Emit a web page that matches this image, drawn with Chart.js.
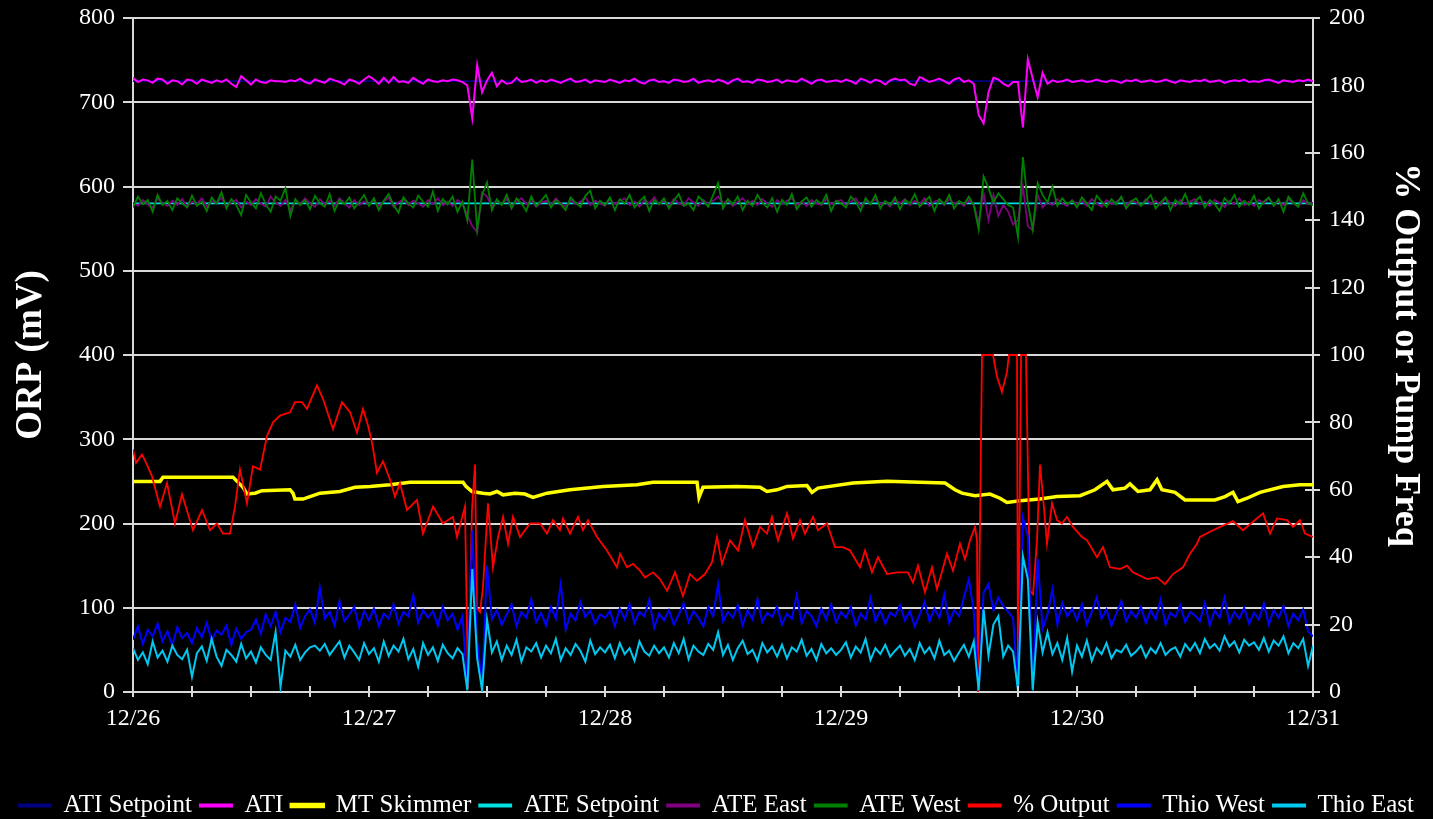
<!DOCTYPE html>
<html>
<head>
<meta charset="utf-8">
<script src="https://cdn.jsdelivr.net/npm/chart.js@4.4.1/dist/chart.umd.min.js"></script>
<style>
  html, body { margin: 0; padding: 0; background: #000; }
  #wrap { width: 1433px; height: 819px; position: relative; }
</style>
</head>
<body>
<div id="wrap"><canvas id="orpChart"></canvas></div>
<script>
// x axis runs in hours from midnight 12/26, one label per day
const dateLabels = ['12/26', '12/27', '12/28', '12/29', '12/30', '12/31'];
const STEP_HOURS = 0.5; // probes logged every half hour

// setpoints (mV)
const setpointHours = [0, 120];
const atiSetpoint = [725, 725];
const ateSetpoint = [580, 580];

// ATI ORP (mV), half-hourly
const ati = [
  729,724,727,726,723,728,727,722,726,725,721,727,
  726,722,727,725,723,726,724,727,722,718,731,726,
  721,727,724,723,726,725,725,724,726,725,728,724,
  722,727,725,723,728,726,724,721,727,725,722,727,
  731,727,722,729,723,730,724,725,723,729,725,722,
  727,725,724,726,725,727,726,724,720,681,744,712,
  726,735,719,726,722,723,729,724,725,727,723,726,
  724,727,725,723,726,728,724,725,727,723,726,725,
  724,727,725,723,726,725,728,724,722,726,727,724,
  725,723,727,726,724,725,728,723,725,726,724,727,
  725,722,726,728,724,725,723,727,726,724,725,727,
  723,726,725,724,728,725,722,726,727,724,725,726,
  724,727,725,722,728,726,723,727,725,721,726,728,
  726,727,722,720,730,727,724,726,728,725,722,727,
  729,724,726,722,685,675,712,729,727,722,719,724,
  724,670,751,728,706,735,722,726,724,725,727,724,
  725,726,724,725,727,725,724,726,725,723,726,725,
  727,724,725,726,724,725,727,725,723,726,725,724,
  726,725,727,724,725,726,723,725,726,725,727,724,
  725,724,726,727,725,723,726,725,724,726,725,727,
  725
];

// MT Skimmer ORP (mV)
const skimmerHours = [0,2.75,3.05,10.17,10.58,11.19,11.59,12.41,13.12,15.97,16.27,16.47,17.29,18.0,19.02,21.05,22.58,24.1,26.14,28.17,
  33.56,33.86,34.47,35.59,36.31,37.02,37.63,38.85,39.86,40.68,42.1,44.44,47.8,51.25,52.88,57.36,57.56,57.97,61.42,63.76,
  64.47,65.49,66.51,68.54,69.05,69.66,73.22,76.68,80.03,82.58,83.59,84.31,85.63,87.15,88.17,88.88,90.2,92.24,93.97,96.31,
  97.83,99.05,99.66,100.88,101.39,102.2,103.42,104.14,104.64,105.97,106.98,110.03,111.05,111.86,112.37,113.29,114.61,116.95,118.68,120];
const mtSkimmer = [250,250,255,255,250,243,235,236,239,240,236,229,229,232,236,238,243,244,246,249,
  249,244,238,236,235,238,234,236,235,231,236,240,244,246,249,249,231,243,244,243,
  238,240,244,245,237,242,248,250,249,248,240,236,233,235,230,225,227,229,232,233,
  240,250,240,242,247,238,240,252,240,237,228,228,232,237,226,230,237,244,246,246];

// ATE East / ATE West ORP (mV), half-hourly
const ateEast = [
  581,577,584,579,575,586,580,577,583,578,585,576,
  582,579,586,576,583,580,587,577,581,584,575,582,
  578,585,580,576,588,581,577,584,572,583,579,586,
  580,576,585,579,583,577,586,580,575,584,578,582,
  579,584,577,582,587,576,581,585,578,583,580,576,
  584,579,586,578,582,577,584,580,566,553,546,593,
  588,576,583,579,585,577,582,586,579,584,576,581,
  583,578,586,580,576,584,579,582,587,578,583,580,
  577,585,579,583,586,578,582,576,584,580,587,579,
  583,577,585,580,578,586,581,577,584,579,583,588,
  580,584,577,582,586,579,583,578,585,580,576,584,
  579,583,586,578,582,577,584,580,578,585,579,582,
  584,578,582,586,577,583,580,585,579,582,576,584,
  580,585,578,583,579,586,577,582,584,578,585,580,
  582,577,584,579,557,592,560,590,565,578,570,555,
  560,600,553,548,590,575,582,578,585,580,577,584,
  579,583,577,585,580,576,584,579,582,586,578,583,
  581,577,585,579,583,578,586,580,577,584,579,582,
  585,579,582,577,584,580,576,583,579,586,578,582,
  577,584,580,586,579,582,578,585,580,576,584,579,
  581
];
const ateWest = [
  575,588,579,584,570,590,578,583,572,586,580,575,
  589,577,582,571,587,580,593,574,585,578,566,590,
  581,574,592,579,570,588,583,598,565,585,578,584,
  573,589,580,576,591,571,584,579,587,574,582,590,
  577,586,572,583,591,578,569,587,580,575,589,582,
  576,594,571,585,579,588,570,582,560,632,549,590,
  605,572,585,578,590,574,586,580,571,588,577,583,
  590,575,584,579,572,587,581,576,589,595,574,583,
  578,587,572,585,580,590,575,582,588,571,584,579,
  586,574,583,591,577,580,572,588,583,576,590,604,
  574,585,579,588,572,583,577,590,581,575,586,570,
  584,578,591,573,582,587,576,584,579,590,571,583,
  580,575,588,582,571,586,579,590,574,583,578,587,
  573,584,580,591,576,582,588,571,585,579,590,574,
  583,579,588,578,549,612,598,581,592,585,578,575,
  540,635,580,549,604,590,581,600,577,586,579,583,
  575,587,580,572,589,582,576,585,579,588,574,582,
  586,577,583,590,574,581,587,572,584,579,591,576,
  582,588,575,584,579,571,586,580,590,576,583,578,
  589,574,582,587,577,585,570,588,581,576,592,580,
  578
];

// % Output (right axis)
const outputHours = [0,0.31,0.92,1.42,1.93,2.75,3.46,4.27,4.98,6.1,7.02,7.83,8.54,9.15,9.86,10.37,10.88,11.59,12.2,12.92,
  13.63,14.24,14.95,15.97,16.47,17.19,17.69,18.71,19.32,20.34,21.25,22.07,22.78,23.39,23.9,24.31,24.81,25.42,26.14,26.64,
  27.15,27.86,28.88,29.49,30.51,31.53,32.54,32.95,33.76,34.07,34.47,34.78,34.98,35.29,35.59,36.1,36.61,37.12,37.63,38.14,
  38.64,39.36,40.37,41.39,42.1,42.71,43.42,43.73,44.44,45.25,45.76,46.27,47.19,48.2,49.22,49.53,50.24,50.85,51.56,52.07,
  52.88,53.59,54.31,55.12,55.93,56.64,57.36,58.17,58.88,59.39,59.9,60.71,61.53,62.24,63.05,63.76,64.47,64.98,65.59,66.51,
  67.12,67.83,68.34,69.15,69.66,70.58,71.39,72.2,72.92,73.93,74.44,75.15,75.76,76.68,77.69,78.81,79.32,79.83,80.54,81.25,
  81.76,82.78,83.39,84.1,84.61,85.12,85.63,85.83,85.93,86.34,87.46,87.86,88.37,88.88,89.08,89.9,90.0,90.31,90.81,91.22,
  91.53,91.93,92.24,92.54,92.95,93.46,93.97,94.47,94.98,95.59,96.51,97.02,98.03,98.64,99.36,100.37,101.08,101.69,103.12,104.14,
  104.95,105.76,106.78,107.49,108.2,108.51,109.83,111.86,112.88,114.92,115.63,116.34,117.36,117.97,118.68,119.19,120];
const pctOutput = [72,68,70.5,67.5,64,55,62,50,58.7,48,54,48,50,47,47,55,66,56,67,66,
  76,80,82,83,86,86,84,91,87,78,86,83,77,84,79,74,65,68.5,63,58,
  62,54,57,47,55,50,52,46,55,1,54,67.5,25,23.7,31,56,37,46,52,44,
  52,46,50,50,47,51,48,51.5,47,52,48,51,46,42,37,41,37,38,36,34,
  35.5,33.5,30,35.5,28.5,35,33,35,38.5,46,38,45,42,51,43,49,47,52,45,53,
  45.5,51,47,52,48,50,43,43,42,37,42,35.5,40,35,35.5,35.5,32.5,37.5,29.6,37,
  30.5,41,36,44,39.4,45,49,45,0,100,100,93.6,89,95,100,100,0,100,100,30,
  29,45,67.5,58,44,56,51,50,52,49,46,45,40,43,37,36.5,37.5,35.5,33.5,34,
  32,35,37,41,44,46,48,50.7,48,53,47,51.5,51,49,51,47,46];

// Thio West / Thio East (mV), half-hourly
const thioWest = [
  62,78,57,74,66,81,60,72,55,77,64,70,
  58,76,65,82,61,73,68,79,56,75,63,71,
  74,86,69,92,78,95,71,88,83,104,76,90,
  98,82,124,87,95,79,108,84,92,101,77,96,
  85,99,78,93,87,104,81,95,90,115,82,97,
  88,96,79,101,85,93,74,90,8,192,60,6,
  150,86,97,80,92,104,78,95,88,110,83,94,
  79,101,87,128,74,93,85,107,89,97,81,92,
  88,96,78,99,86,104,82,95,90,110,76,93,
  85,97,80,92,105,83,96,88,78,101,90,128,
  84,95,88,103,79,97,86,110,83,94,89,101,
  80,93,87,115,82,96,90,78,99,86,104,83,
  95,88,101,79,93,86,112,84,97,81,94,90,
  103,85,96,78,92,107,84,99,88,116,82,97,
  90,112,134,96,3,118,128,97,112,102,95,88,
  3,207,185,4,158,75,92,122,80,106,90,99,
  85,104,80,95,112,87,98,79,93,108,84,96,
  88,101,82,97,86,110,80,94,89,103,83,95,
  91,84,106,79,97,88,112,82,95,87,100,81,
  94,86,105,80,97,88,102,78,93,85,98,72,
  66
];
const thioEast = [
  52,38,47,33,60,41,49,36,55,44,39,50,
  18,46,54,37,63,42,31,50,44,36,57,40,
  48,35,53,44,38,71,6,49,42,56,38,47,
  53,55,49,57,44,52,60,41,55,47,38,58,
  45,52,36,60,43,55,48,63,39,51,30,58,
  44,53,37,56,46,40,52,45,2,146,40,2,
  86,47,60,38,55,44,62,36,53,48,58,41,
  55,46,63,38,52,44,57,49,36,61,45,53,
  47,56,40,58,45,52,37,60,48,43,55,46,
  53,41,58,46,63,39,55,48,44,57,50,71,
  44,56,38,52,61,45,50,37,58,47,54,42,
  56,40,53,48,62,43,51,38,57,46,52,44,
  50,59,41,54,47,63,38,52,45,56,42,49,
  55,43,51,38,58,46,53,40,61,44,49,37,
  47,56,42,60,2,98,43,80,90,42,55,48,
  2,161,134,2,83,47,71,45,58,38,64,24,
  55,42,61,37,52,45,58,40,50,47,56,43,
  48,55,41,52,46,58,44,50,53,42,57,49,
  58,46,63,52,57,49,66,54,60,47,62,55,
  59,50,64,48,61,55,66,46,58,52,63,31,
  55
];

const halfHourly = vals => vals.map((v, i) => ({ x: i * STEP_HOURS, y: v }));
const paired = (hrs, vals) => vals.map((v, i) => ({ x: hrs[i], y: v }));

const gridColor = '#D9D9D9';
const serif = "'Liberation Serif', 'Times New Roman', serif";

function line(label, data, color, width, axis) {
  return {
    label, data,
    borderColor: color, backgroundColor: color,
    borderWidth: width, pointRadius: 0, tension: 0,
    yAxisID: axis || 'y'
  };
}

// listed last-to-first so later series paint on top, legend reversed back
const datasets = [
  line('Thio East', halfHourly(thioEast), '#00C8F0', 2),
  line('Thio West', halfHourly(thioWest), '#0000FF', 2),
  line('% Output', paired(outputHours, pctOutput), '#FF0000', 1.8, 'y1'),
  line('ATE West', halfHourly(ateWest), '#008000', 1.8),
  line('ATE East', halfHourly(ateEast), '#800080', 1.8),
  line('ATE Setpoint', paired(setpointHours, ateSetpoint), '#00E0E0', 1.8),
  line('MT Skimmer', paired(skimmerHours, mtSkimmer), '#FFFF00', 3.5),
  line('ATI', halfHourly(ati), '#FF00FF', 2),
  line('ATI Setpoint', paired(setpointHours, atiSetpoint), '#000080', 1.8)
];

// quarter-day ticks on the x axis and crossing ticks on the right axis
const tickMarks = {
  id: 'tickMarks',
  afterDraw(chart) {
    const { ctx, chartArea, scales } = chart;
    ctx.save();
    ctx.strokeStyle = gridColor;
    ctx.lineWidth = 2;
    ctx.beginPath();
    for (let h = 0; h <= 120; h += 6) {
      const x = Math.round(scales.x.getPixelForValue(h));
      ctx.moveTo(x, chartArea.bottom - 6);
      ctx.lineTo(x, chartArea.bottom + 5);
    }
    for (let v = 0; v <= 200; v += 20) {
      const y = Math.round(scales.y1.getPixelForValue(v));
      ctx.moveTo(chartArea.right - 8, y);
      ctx.lineTo(chartArea.right + 7, y);
    }
    ctx.stroke();
    ctx.restore();
  }
};

// vertical axes: fixed widths, no extra room reserved for label overhang
const fitVertical = width => s => {
  s.width = width;
  s.paddingTop = 0;
  s.paddingBottom = 0;
};

Chart.defaults.font.family = serif;
Chart.defaults.color = '#FFFFFF';

new Chart(document.getElementById('orpChart'), {
  type: 'line',
  data: { datasets },
  options: {
    responsive: true,
    maintainAspectRatio: false,
    animation: false,
    layout: { padding: { top: 18, left: 0, right: 0, bottom: -9 } },
    plugins: {
      legend: {
        position: 'bottom',
        reverse: true,
        labels: {
          color: '#FFFFFF',
          font: { size: 25, family: serif },
          boxWidth: 32,
          boxHeight: 2,
          padding: 8
        }
      },
      tooltip: { enabled: false }
    },
    scales: {
      x: {
        type: 'linear',
        min: 0,
        max: 120,
        ticks: {
          stepSize: 24,
          autoSkip: false,
          maxRotation: 0,
          padding: 12,
          color: '#FFFFFF',
          font: { size: 24, family: serif },
          callback: v => dateLabels[v / 24]
        },
        grid: { drawOnChartArea: false, drawTicks: false },
        border: { color: gridColor, width: 2 },
        afterFit: s => { s.height = 93; }
      },
      y: {
        position: 'left',
        min: 0,
        max: 800,
        ticks: {
          stepSize: 100,
          padding: 8,
          color: '#FFFFFF',
          font: { size: 24, family: serif }
        },
        grid: { color: gridColor, lineWidth: 2, tickLength: 10 },
        border: { color: gridColor, width: 2 },
        title: {
          display: true,
          text: 'ORP (mV)',
          color: '#FFFFFF',
          font: { size: 37, weight: 'bold', family: serif },
          padding: { top: 9, bottom: 0 }
        },
        afterFit: fitVertical(133)
      },
      y1: {
        position: 'right',
        min: 0,
        max: 200,
        ticks: {
          stepSize: 20,
          padding: 16,
          color: '#FFFFFF',
          font: { size: 24, family: serif }
        },
        grid: { drawOnChartArea: false, drawTicks: false },
        border: { color: gridColor, width: 2 },
        title: {
          display: true,
          text: '% Output or Pump Freq',
          color: '#FFFFFF',
          font: { size: 36, weight: 'bold', family: serif },
          padding: { top: 6, bottom: 0 }
        },
        afterFit: fitVertical(120)
      }
    }
  },
  plugins: [tickMarks]
});
</script>
</body>
</html>
